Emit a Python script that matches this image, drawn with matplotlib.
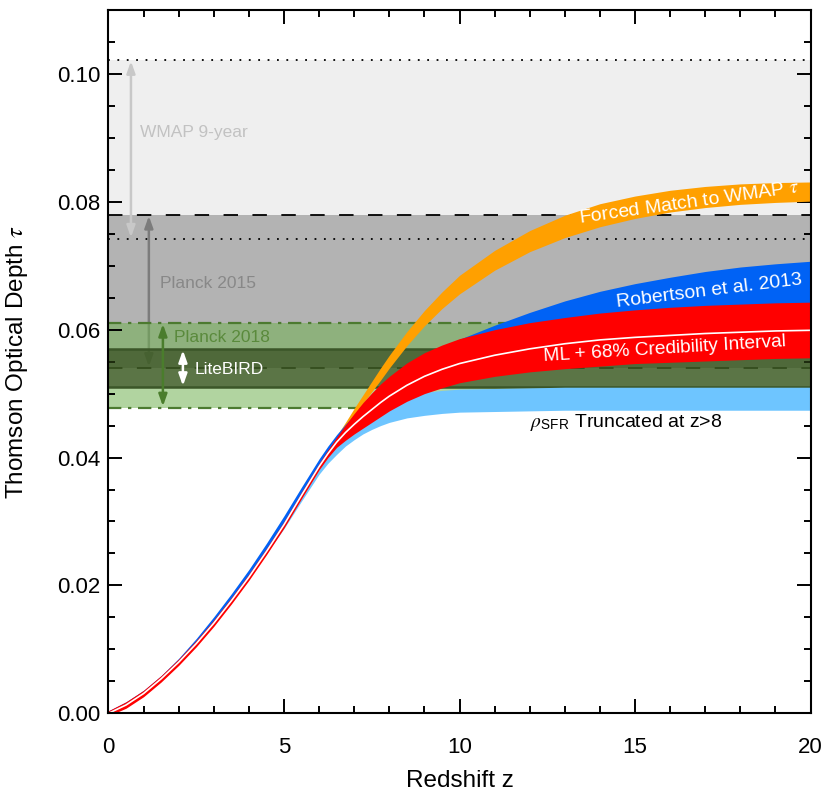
import numpy as np
import matplotlib.pyplot as plt
from matplotlib.ticker import MultipleLocator, FormatStrFormatter

plt.rcParams['font.family'] = ['Liberation Sans', 'DejaVu Sans']
plt.rcParams['mathtext.fontset'] = 'stix'

# redshift grid shared by the model curves
z = [0, 0.5, 1, 1.5, 2, 2.5, 3, 3.5, 4, 4.5, 5, 5.5, 6,
     6.25, 6.5, 6.75, 7, 7.25, 7.5, 7.75, 8,
     8.5, 9, 9.5, 10,
     11, 12, 13, 14, 15, 16, 17, 18, 19, 20]

# maximum likelihood curve and 68% interval
tau_ml = [0, 0.0013, 0.0031, 0.0054, 0.0080, 0.0109, 0.0141, 0.0176, 0.0213, 0.0253, 0.0295, 0.0341, 0.0386,
          0.0406, 0.0424, 0.0439, 0.0452, 0.0464, 0.0475, 0.0486, 0.0496,
          0.0513, 0.0527, 0.0538, 0.0547,
          0.0560, 0.0570, 0.0578, 0.0584, 0.0588, 0.0591, 0.0594, 0.0596, 0.0598, 0.0599]
tau_ml_hi = [0.0004, 0.0018, 0.0036, 0.0059, 0.0085, 0.0114, 0.0146, 0.0181, 0.0218, 0.0258, 0.0300, 0.0346, 0.0391,
             0.0412, 0.0432, 0.0451, 0.0469, 0.0486, 0.0501, 0.0515, 0.0527,
             0.0548, 0.0564, 0.0576, 0.0586,
             0.0600, 0.0611, 0.0619, 0.0626, 0.0631, 0.0635, 0.0638, 0.0640, 0.0642, 0.0643]
tau_ml_lo = [-0.0004, 0.0008, 0.0026, 0.0049, 0.0075, 0.0104, 0.0136, 0.0171, 0.0208, 0.0248, 0.0290, 0.0336, 0.0381,
             0.0400, 0.0416, 0.0427, 0.0437, 0.0446, 0.0455, 0.0464, 0.0473,
             0.0488, 0.0500, 0.0509, 0.0517,
             0.0527, 0.0534, 0.0539, 0.0543, 0.0547, 0.0549, 0.0551, 0.0553, 0.0555, 0.0556]

# Robertson et al. 2013 upper edge
tau_r13_hi = [0.0004, 0.0018, 0.0036, 0.0059, 0.0086, 0.0117, 0.0151, 0.0187, 0.0225, 0.0266, 0.0309, 0.0354, 0.0398,
              0.0418, 0.0436, 0.0452, 0.0467, 0.0482, 0.0497, 0.0510, 0.0522,
              0.0544, 0.0561, 0.0574, 0.0585,
              0.0607, 0.0627, 0.0645, 0.0660, 0.0672, 0.0682, 0.0691, 0.0698, 0.0703, 0.0707]

# rho_SFR truncated at z>8
tau_trunc_hi = [0, 0.0013, 0.0031, 0.0054, 0.0080, 0.0109, 0.0141, 0.0176, 0.0213, 0.0253, 0.0295, 0.0341, 0.0384,
                0.0402, 0.0419, 0.0434, 0.0447, 0.0459, 0.0470, 0.0479, 0.0486,
                0.0496, 0.0502, 0.0505, 0.0507,
                0.0508, 0.0509, 0.0510, 0.0510, 0.0510, 0.0510, 0.0510, 0.0510, 0.0510, 0.0510]
tau_trunc_lo = [0, 0.0013, 0.0031, 0.0054, 0.0080, 0.0109, 0.0141, 0.0176, 0.0213, 0.0250, 0.0289, 0.0332, 0.0374,
                0.0391, 0.0405, 0.0418, 0.0428, 0.0437, 0.0444, 0.0450, 0.0455,
                0.0462, 0.0466, 0.0469, 0.0471,
                0.0472, 0.0473, 0.0474, 0.0474, 0.0474, 0.0474, 0.0474, 0.0474, 0.0474, 0.0474]

# forced match to WMAP tau
z_forced = [6.5, 6.75, 7, 7.25, 7.5, 7.75, 8, 8.5, 9, 9.5, 10,
            11, 12, 13, 14, 15, 16, 17, 18, 19, 20]
tau_forced_lo = [0.0432, 0.0449, 0.0467, 0.0485, 0.0503, 0.0521, 0.0540, 0.0575, 0.0606, 0.0633, 0.0656,
                 0.0693, 0.0722, 0.0744, 0.0761, 0.0774, 0.0784, 0.0791, 0.0796, 0.0799, 0.0801]
tau_forced_hi = [0.0434, 0.0455, 0.0477, 0.0498, 0.0519, 0.0540, 0.0560, 0.0597, 0.0630, 0.0659, 0.0685,
                 0.0724, 0.0755, 0.0779, 0.0797, 0.0809, 0.0818, 0.0824, 0.0828, 0.0830, 0.0831]

# CMB constraints (lower, upper)
wmap9 = (0.0742, 0.1022)
planck15 = (0.054, 0.078)
planck18 = (0.0478, 0.0611)
litebird = (0.051, 0.057)

fig = plt.figure(figsize=(8.25, 7.97), dpi=100)
ax = fig.add_axes([0.1315, 0.105, 0.851, 0.8825])

# CMB bands
ax.axhspan(*wmap9, color='#efefef', lw=0, zorder=1)
ax.axhspan(*planck15, color='#b3b3b3', lw=0, zorder=1.1)
for y in wmap9:
    ax.axhline(y, color='k', lw=1.3, ls=(0, (1, 4.2)), zorder=1.2)
for y in planck15:
    ax.axhline(y, color='k', lw=1.3, ls=(0, (8, 8)), zorder=1.2)

def band_arrow(x, lo, hi, color, zo):
    ax.annotate('', xy=(x, lo), xytext=(x, hi),
                arrowprops=dict(arrowstyle='<|-|>,head_length=0.7,head_width=0.25',
                                color=color, lw=1.8, mutation_scale=10,
                                shrinkA=1, shrinkB=1), zorder=zo)

band_arrow(0.64, *wmap9, '#c8c8c8', 1.3)
band_arrow(1.15, *planck15, '#7c7c7c', 1.3)
ax.text(0.9, 0.0908, 'WMAP 9-year', color='#c2c2c2', fontsize=12.5, va='center', zorder=1.3)
ax.text(1.47, 0.0672, 'Planck 2015', color='#888888', fontsize=12.5, va='center', zorder=1.3)

ax.axhspan(*planck18, color='#71b152', alpha=0.55, lw=0, zorder=1.5)
ax.axhspan(*litebird, color='#2e4316', alpha=0.65, lw=0, zorder=1.6)
for y in planck18:
    ax.axhline(y, color='#4c7a30', lw=1.6, ls=(0, (6, 3, 1.5, 3)), zorder=1.7)
for y in litebird:
    ax.axhline(y, color='#3b5628', lw=1.8, zorder=1.7)
band_arrow(1.55, *planck18, '#4a7d2c', 1.8)
band_arrow(2.12, *litebird, 'white', 1.8)
ax.text(1.87, 0.0587, 'Planck 2018', color='#5a8a3c', fontsize=12.5, va='center', zorder=1.8)
ax.text(2.46, 0.0537, 'LiteBIRD', color='white', fontsize=12.5, va='center', zorder=1.8)

# model curves
ax.fill_between(z_forced, tau_forced_lo, tau_forced_hi, color='#ffa000', lw=0, zorder=3)
ax.fill_between(z, tau_ml, tau_r13_hi, color='#0062f5', lw=0, zorder=3.1)
ax.fill_between(z, tau_trunc_lo, tau_trunc_hi, color='#6ec5ff', lw=0, zorder=3.2)
ax.fill_between(z, tau_ml_lo, tau_ml_hi, color='#ff0000', lw=0, zorder=3.3)
ax.plot(z, tau_ml, color='white', lw=1.2, zorder=3.4)

ax.text(16.55, 0.0798, r'Forced Match to WMAP $\tau$', color='white', fontsize=14,
        rotation=8, ha='center', va='center', rotation_mode='anchor', zorder=4)
ax.text(17.1, 0.0660, 'Robertson et al. 2013', color='white', fontsize=14,
        rotation=7, ha='center', va='center', rotation_mode='anchor', zorder=4)
ax.text(15.85, 0.0569, 'ML + 68% Credibility Interval', color='white', fontsize=13.8,
        rotation=3.5, ha='center', va='center', rotation_mode='anchor', zorder=4)
ax.text(12.0, 0.0455, r'$\rho_{\mathregular{SFR}}$ Truncated at z>8', color='black', fontsize=14,
        va='center', zorder=4)

ax.set_xlim(0, 20)
ax.set_ylim(0, 0.11)
ax.xaxis.set_major_locator(MultipleLocator(5))
ax.xaxis.set_minor_locator(MultipleLocator(1))
ax.yaxis.set_major_locator(MultipleLocator(0.02))
ax.yaxis.set_minor_locator(MultipleLocator(0.005))
ax.yaxis.set_major_formatter(FormatStrFormatter('%.2f'))
ax.tick_params(which='both', direction='in', top=True, right=True, width=1.4,
               labelsize=16, zorder=5)
ax.tick_params(which='major', length=10)
ax.tick_params(which='minor', length=5)
ax.tick_params(axis='x', pad=17)
ax.tick_params(axis='y', pad=6)
for s in ax.spines.values():
    s.set_linewidth(1.5)
    s.set_zorder(5)

ax.set_xlabel('Redshift z', fontsize=17.5)
ax.set_ylabel(r'Thomson Optical Depth $\tau$', fontsize=17.5)
ax.xaxis.set_label_coords(0.5, -0.08)
ax.yaxis.set_label_coords(-0.112, 0.5)

fig.savefig('out.png', dpi=100)
